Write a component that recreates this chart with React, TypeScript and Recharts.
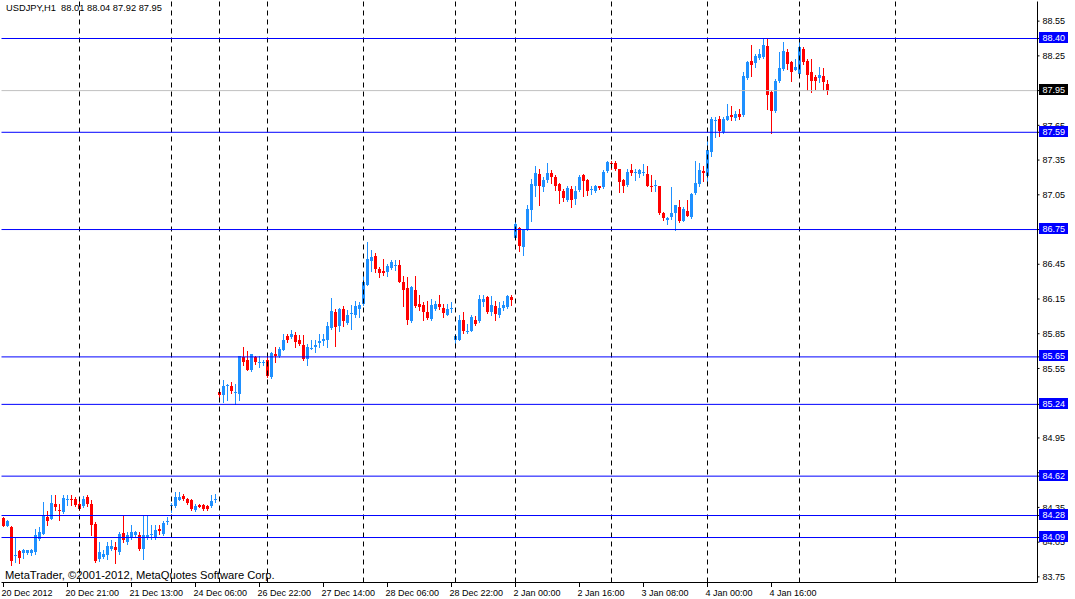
import React from 'react'
import { ComposedChart, Bar, XAxis, YAxis, ReferenceLine } from 'recharts'

// USDJPY H1 bars (oldest first)
const OPEN = [
  84.26, 84.19, 84.18, 83.93, 83.97, 83.955, 83.96, 83.96, 83.965, 84.075,
  84.12, 84.265, 84.25, 84.38, 84.33, 84.31, 84.41, 84.425, 84.42, 84.38,
  84.365, 84.44, 84.38, 84.21, 83.905, 83.925, 83.935, 83.99, 84.005, 83.965,
  84.13, 84.05, 84.095, 84.11, 84.11, 83.99, 84.095, 84.11, 84.095, 84.165,
  84.12, 84.23, 84.36, 84.365, 84.415, 84.45, 84.425, 84.415, 84.325, 84.37,
  84.37, 84.365, 84.36, 84.415, 85.35, 85.317, 85.395, 85.395, 85.34, 85.33,
  85.648, 85.62, 85.533, 85.648, 85.602, 85.596, 85.619, 85.475, 85.677, 85.654,
  85.711, 85.83, 85.821, 85.841, 85.792, 85.749, 85.634, 85.72, 85.734, 85.769,
  85.786, 85.798, 85.9, 86.042, 85.92, 86.065, 85.945, 86.02, 86.008, 86.06,
  86.109, 86.273, 86.474, 86.52, 86.411, 86.39, 86.382, 86.416, 86.44, 86.44,
  86.3, 86.244, 85.956, 86.232, 86.103, 86.094, 86.036, 85.979, 86.06, 86.103,
  86.071, 86.016, 86.065, 85.792, 85.8, 85.973, 85.864, 85.878, 85.973, 85.956,
  86.123, 86.166, 86.036, 86.088, 86.014, 86.074, 86.08, 86.164, 86.679, 86.765,
  86.598, 86.75, 86.92, 87.13, 87.231, 87.116, 87.18, 87.237, 87.202, 87.145,
  87.079, 87.007, 87.102, 87.01, 87.093, 87.217, 87.18, 87.096, 87.082, 87.122,
  87.116, 87.254, 87.329, 87.329, 87.269, 87.18, 87.139, 87.26, 87.237, 87.231,
  87.237, 87.231, 87.13, 87.127, 87.122, 86.891, 86.834, 86.857, 86.891, 86.949,
  86.828, 86.914, 86.857, 87.064, 87.145, 87.254, 87.211, 87.418, 87.692, 87.706,
  87.591, 87.692, 87.741, 87.712, 87.744, 87.735, 88.057, 88.21, 88.19, 88.23,
  88.239, 88.331, 87.942, 87.77, 88.029, 88.138, 88.282, 88.201, 88.132, 88.095,
  88.311, 88.21, 88.109, 88.066, 88.057, 88.08, 88.01,
]
const HIGH = [
  84.27, 84.24, 84.19, 84.09, 83.98, 83.99, 83.985, 83.99, 84.165, 84.18,
  84.395, 84.32, 84.455, 84.46, 84.38, 84.455, 84.455, 84.455, 84.44, 84.425,
  84.445, 84.455, 84.41, 84.225, 84.05, 83.98, 84.05, 84.065, 84.05, 84.135,
  84.28, 84.135, 84.195, 84.15, 84.135, 84.28, 84.28, 84.195, 84.195, 84.195,
  84.235, 84.265, 84.385, 84.48, 84.48, 84.465, 84.435, 84.425, 84.38, 84.38,
  84.38, 84.375, 84.455, 84.47, 85.375, 85.447, 85.412, 85.432, 85.418, 85.66,
  85.734, 85.7, 85.677, 85.662, 85.662, 85.625, 85.662, 85.691, 85.734, 85.734,
  85.85, 85.85, 85.884, 85.864, 85.835, 85.835, 85.763, 85.792, 85.798, 85.844,
  85.85, 85.95, 86.158, 86.065, 86.071, 86.088, 86.051, 86.094, 86.135, 86.123,
  86.359, 86.641, 86.569, 86.549, 86.425, 86.497, 86.454, 86.49, 86.49, 86.49,
  86.353, 86.339, 86.261, 86.353, 86.181, 86.123, 86.129, 86.152, 86.129, 86.181,
  86.109, 86.109, 86.123, 85.85, 86.014, 86.036, 85.936, 86.008, 86.0, 86.181,
  86.181, 86.172, 86.175, 86.129, 86.123, 86.129, 86.186, 86.181, 86.843, 86.77,
  86.756, 86.958, 87.188, 87.3, 87.274, 87.202, 87.326, 87.26, 87.217, 87.15,
  87.102, 87.122, 87.122, 87.122, 87.217, 87.231, 87.188, 87.122, 87.136, 87.13,
  87.266, 87.341, 87.346, 87.338, 87.274, 87.188, 87.274, 87.312, 87.274, 87.274,
  87.318, 87.303, 87.225, 87.18, 87.13, 86.9, 86.857, 87.116, 86.966, 87.007,
  86.943, 87.001, 87.064, 87.346, 87.323, 87.303, 87.562, 87.72, 87.72, 87.729,
  87.72, 87.836, 87.813, 87.778, 87.787, 88.115, 88.21, 88.34, 88.268, 88.311,
  88.397, 88.397, 87.951, 88.052, 88.282, 88.368, 88.311, 88.21, 88.224, 88.368,
  88.325, 88.219, 88.224, 88.086, 88.152, 88.144, 88.04,
]
const LOW = [
  84.19, 84.19, 83.85, 83.88, 83.87, 83.915, 83.95, 83.935, 83.95, 84.065,
  84.12, 84.195, 84.25, 84.33, 84.24, 84.3, 84.37, 84.37, 84.36, 84.325,
  84.35, 84.365, 84.11, 83.88, 83.885, 83.915, 83.905, 83.98, 83.87, 83.95,
  84.05, 84.035, 84.08, 84.095, 83.98, 83.905, 84.08, 84.08, 84.08, 84.12,
  84.11, 84.21, 84.31, 84.355, 84.41, 84.41, 84.38, 84.325, 84.32, 84.35,
  84.33, 84.33, 84.355, 84.395, 85.275, 85.26, 85.28, 85.337, 85.24, 85.28,
  85.576, 85.533, 85.524, 85.59, 85.562, 85.582, 85.475, 85.467, 85.605, 85.648,
  85.706, 85.778, 85.815, 85.734, 85.749, 85.625, 85.576, 85.714, 85.691, 85.734,
  85.749, 85.734, 85.893, 85.745, 85.878, 85.92, 85.936, 85.893, 85.994, 85.994,
  86.094, 86.267, 86.396, 86.382, 86.339, 86.359, 86.353, 86.405, 86.402, 86.296,
  86.088, 85.936, 85.95, 86.08, 86.051, 85.965, 85.979, 85.973, 86.051, 86.06,
  85.994, 86.008, 86.042, 85.749, 85.792, 85.858, 85.858, 85.87, 85.922, 85.95,
  86.088, 86.031, 86.008, 85.965, 85.994, 86.051, 86.071, 86.094, 86.67, 86.563,
  86.532, 86.742, 86.828, 87.044, 86.966, 87.082, 87.16, 87.15, 87.093, 86.978,
  86.995, 86.995, 86.943, 86.972, 87.082, 87.044, 87.05, 87.059, 87.073, 87.102,
  87.11, 87.246, 87.274, 87.266, 87.073, 87.073, 87.13, 87.217, 87.18, 87.208,
  87.225, 87.122, 87.082, 87.087, 86.88, 86.834, 86.794, 86.843, 86.748, 86.814,
  86.822, 86.863, 86.851, 87.058, 87.13, 87.168, 87.159, 87.384, 87.548, 87.556,
  87.585, 87.692, 87.692, 87.7, 87.706, 87.729, 88.052, 88.08, 88.152, 88.219,
  88.23, 87.787, 87.585, 87.764, 88.023, 88.132, 88.138, 88.037, 88.124, 88.086,
  88.181, 87.951, 87.942, 87.965, 88.023, 87.951, 87.92,
]
const CLOSE = [
  84.19, 84.23, 83.89, 83.94, 83.91, 83.98, 83.98, 83.98, 84.11, 84.135,
  84.285, 84.23, 84.39, 84.35, 84.315, 84.43, 84.42, 84.41, 84.375, 84.34,
  84.425, 84.38, 84.195, 83.89, 83.965, 83.945, 84.02, 84.015, 83.98, 84.12,
  84.065, 84.11, 84.135, 84.135, 83.99, 84.11, 84.11, 84.12, 84.155, 84.15,
  84.215, 84.235, 84.375, 84.44, 84.44, 84.425, 84.39, 84.34, 84.365, 84.35,
  84.34, 84.34, 84.405, 84.425, 85.325, 85.395, 85.404, 85.354, 85.345, 85.655,
  85.605, 85.54, 85.671, 85.61, 85.61, 85.61, 85.481, 85.683, 85.66, 85.72,
  85.798, 85.792, 85.85, 85.775, 85.763, 85.634, 85.734, 85.731, 85.749, 85.786,
  85.806, 85.913, 86.05, 85.907, 86.06, 85.956, 86.016, 86.028, 86.088, 86.1,
  86.296, 86.497, 86.512, 86.405, 86.373, 86.373, 86.431, 86.468, 86.448, 86.3,
  86.224, 85.965, 86.252, 86.088, 86.08, 86.036, 85.985, 86.094, 86.109, 86.08,
  86.031, 86.06, 86.071, 85.829, 85.965, 85.878, 85.87, 85.994, 85.93, 86.146,
  86.146, 86.036, 86.094, 86.022, 86.071, 86.094, 86.172, 86.138, 86.794, 86.612,
  86.75, 86.929, 87.145, 87.237, 87.13, 87.174, 87.24, 87.202, 87.13, 87.082,
  87.021, 87.11, 87.007, 87.087, 87.208, 87.168, 87.082, 87.102, 87.13, 87.108,
  87.251, 87.332, 87.312, 87.274, 87.159, 87.13, 87.251, 87.24, 87.243, 87.26,
  87.243, 87.13, 87.116, 87.133, 86.891, 86.848, 86.851, 86.891, 86.958, 86.822,
  86.929, 86.868, 87.058, 87.15, 87.26, 87.237, 87.433, 87.706, 87.7, 87.597,
  87.706, 87.729, 87.72, 87.749, 87.72, 88.075, 88.201, 88.172, 88.247, 88.268,
  88.34, 87.908, 87.778, 88.037, 88.144, 88.288, 88.181, 88.109, 88.152, 88.325,
  88.196, 88.086, 88.037, 88.037, 88.086, 88.023, 87.95,
]

// the chart is shifted: empty bar slots on the right
const SLOT_COUNT = 259

const TIME_SLOTS = [0, 16, 32, 48, 64, 80, 96, 112, 128, 144, 160, 176, 192]
const TIME_LABELS = [
  '20 Dec 2012', '20 Dec 21:00', '21 Dec 13:00', '24 Dec 06:00', '26 Dec 22:00',
  '27 Dec 14:00', '28 Dec 06:00', '28 Dec 22:00', '2 Jan 00:00', '2 Jan 16:00',
  '3 Jan 08:00', '4 Jan 00:00', '4 Jan 16:00',
]
// dashed grid separators (bar slots)
const SEPARATORS = [19, 42, 54, 66, 90, 113, 128, 152, 176, 199, 223]

const PRICE_TICKS = [
  88.55, 88.25, 87.95, 87.65, 87.35, 87.05, 86.75, 86.45, 86.15,
  85.85, 85.55, 85.25, 84.95, 84.65, 84.35, 84.05, 83.75,
]
const LEVELS = [88.4, 87.59, 86.75, 85.65, 85.24, 84.62, 84.28, 84.09]
const BID = 87.95

const Y_MIN = 83.7015
const Y_MAX = 88.7196

const UP = '#1E90FF'
const DOWN = '#FF0000'
const FONT = '"Liberation Sans", Arial, sans-serif'

const data = Array.from({ length: SLOT_COUNT }, (_, i) =>
  i < OPEN.length
    ? { slot: i, o: OPEN[i], h: HIGH[i], l: LOW[i], c: CLOSE[i] }
    : { slot: i }
)

const range = (d: any) => (d.o == null ? null : [d.l, d.h])

const covered = (v: number) =>
  [...LEVELS, BID].some((p) => Math.abs(p - v) < 0.02)

const Y_TICKS = [...PRICE_TICKS.filter((t) => !covered(t)), ...LEVELS, BID]

const Candle = (props: any) => {
  const { x, y, width, height, payload } = props
  if (!payload || payload.o == null || !isFinite(y) || !isFinite(height)) return null
  const { o, h, l, c } = payload
  const top = Math.min(y, y + height)
  const span = Math.abs(height)
  const k = span / (h - l)
  const at = (v: number) => top + (h - v) * k
  const cx = Math.floor(x + width / 2) + 0.5
  const color = c >= o ? UP : DOWN
  const bTop = Math.round(at(Math.max(o, c)))
  const bBot = Math.round(at(Math.min(o, c)))
  return (
    <g shapeRendering="crispEdges">
      <line x1={cx} x2={cx} y1={Math.round(top)} y2={Math.round(top + span) + 1} stroke={color} />
      <rect x={cx - 1.5} y={bTop} width={3} height={Math.max(bBot - bTop, 1)} fill={color} />
    </g>
  )
}

const TimeTick = (props: any) => {
  const { x, y, payload } = props
  const k = TIME_SLOTS.indexOf(payload.value)
  if (k < 0) return null
  return (
    <g>
      <line x1={x} x2={x} y1={y - 4} y2={y} stroke="#000" shapeRendering="crispEdges" />
      <text x={x - 2} y={y + 9} fontSize={9} fontFamily={FONT} fill="#000">
        {TIME_LABELS[k]}
      </text>
    </g>
  )
}

const PriceTick = (props: any) => {
  const { x, y, payload } = props
  const v = payload.value
  const isTag = props.index >= Y_TICKS.length - LEVELS.length - 1
  if (!isTag) {
    return (
      <text x={x} y={y + 3.2} fontSize={9} fontFamily={FONT} fill="#000">
        {v.toFixed(2)}
      </text>
    )
  }
  const bg = props.index === Y_TICKS.length - 1 ? '#000000' : '#0000FF'
  return (
    <g>
      <rect x={x - 3.5} y={Math.round(y - 6.5)} width={29} height={11} fill={bg} shapeRendering="crispEdges" />
      <text x={x} y={y + 2.5} fontSize={9} fontFamily={FONT} fill="#fff">
        {v.toFixed(2)}
      </text>
    </g>
  )
}

const last = OPEN.length - 1
const TITLE = `USDJPY,H1  ${OPEN[last].toFixed(2)} ${HIGH[last].toFixed(2)} ${LOW[last].toFixed(2)} ${CLOSE[last].toFixed(2)}`

export default function App() {
  return (
    <div style={{ position: 'absolute', left: 0, top: 0, width: 1075, height: 599, background: '#fff' }}>
      <ComposedChart
        width={1075}
        height={599}
        data={data}
        margin={{ top: 1.5, right: 0, bottom: 0, left: 1.5 }}
        barCategoryGap={0}
        barGap={0}
      >
        <XAxis
          dataKey="slot"
          type="category"
          interval={0}
          height={16.5}
          tickSize={4}
          tickMargin={0}
          tickLine={false}
          axisLine={{ stroke: '#000' }}
          tick={<TimeTick />}
        />
        <XAxis
          xAxisId="frame"
          dataKey="slot"
          orientation="top"
          height={0}
          tick={false}
          tickLine={false}
          axisLine={{ stroke: '#000' }}
        />
        <YAxis
          yAxisId="frame"
          orientation="left"
          width={0}
          type="number"
          domain={[Y_MIN, Y_MAX]}
          allowDataOverflow
          tick={false}
          tickLine={false}
          axisLine={{ stroke: '#000' }}
        />
        {SEPARATORS.map((s) => (
          <ReferenceLine key={'s' + s} x={s} stroke="#000" strokeDasharray="5 4" />
        ))}
        <ReferenceLine y={BID} stroke="#C0C0C0" />
        {LEVELS.map((v) => (
          <ReferenceLine key={'l' + v} y={v} stroke="#0000FF" />
        ))}
        <Bar dataKey={range} shape={<Candle />} isAnimationActive={false} />
        <YAxis
          orientation="right"
          type="number"
          domain={[Y_MIN, Y_MAX]}
          allowDataOverflow
          ticks={Y_TICKS}
          interval={0}
          width={37.5}
          tickSize={2}
          tickMargin={3}
          tickLine={{ stroke: '#000' }}
          axisLine={{ stroke: '#000' }}
          tick={<PriceTick />}
        />
      </ComposedChart>
      <svg
        width={1075}
        height={599}
        style={{ position: 'absolute', left: 0, top: 0, pointerEvents: 'none' }}
      >
        <text x={6} y={10.7} fontSize={9.3} fontFamily={FONT} fill="#000" style={{ whiteSpace: 'pre' }}>
          {TITLE}
        </text>
        <text x={5} y={578.5} fontSize={11.2} fontFamily={FONT} fill="#000">
          MetaTrader, ©2001-2012, MetaQuotes Software Corp.
        </text>
      </svg>
    </div>
  )
}
